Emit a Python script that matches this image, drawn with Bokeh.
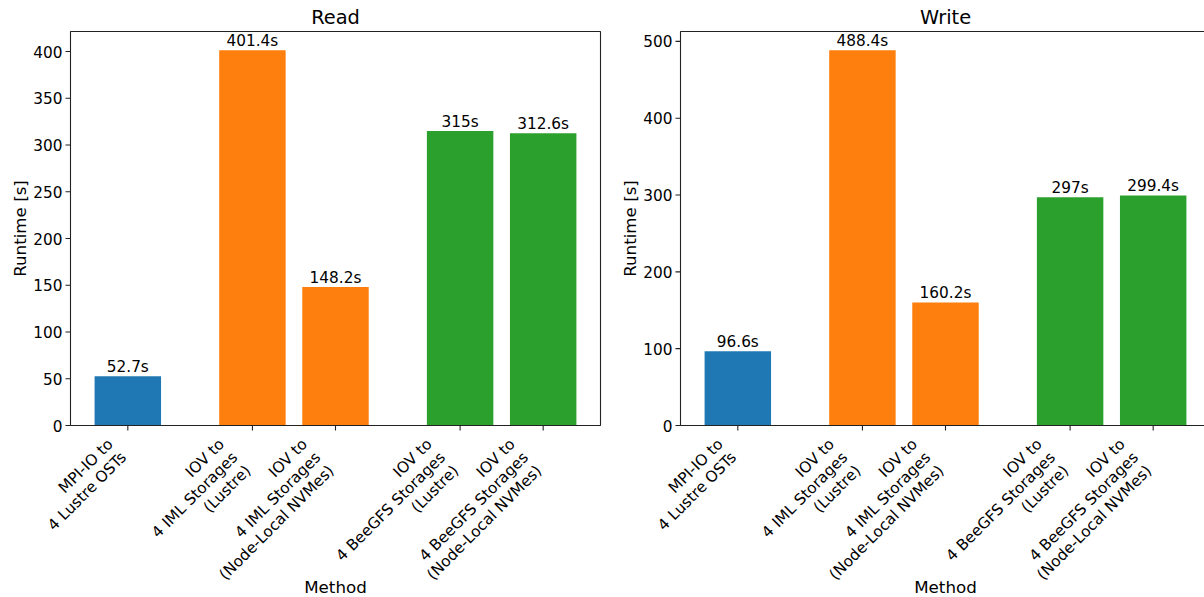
import math
from bokeh.plotting import figure
from bokeh.layouts import row
from bokeh.models import ColumnDataSource, Range1d, BoxAnnotation
from bokeh.core.properties import value
from bokeh.embed import file_html
from bokeh.resources import INLINE

# ---- data ----
methods = [
    "MPI-IO to\n4 Lustre OSTs",
    "IOV to\n4 IML Storages\n(Lustre)",
    "IOV to\n4 IML Storages\n(Node-Local NVMes)",
    "IOV to\n4 BeeGFS Storages\n(Lustre)",
    "IOV to\n4 BeeGFS Storages\n(Node-Local NVMes)",
]
positions = [0.0, 1.5, 2.5, 4.0, 5.0]
read_times = [52.7, 401.4, 148.2, 315, 312.6]
write_times = [96.6, 488.4, 160.2, 297, 299.4]
colors = ["#1f77b4", "#ff7f0e", "#ff7f0e", "#2ca02c", "#2ca02c"]
titles = ["Read", "Write"]
y_intervals = [50, 100]
x_label = "Method"
y_label = "Runtime [s]"

# ---- layout / style ----
FONT = "DejaVu Sans"
HEIGHT = 597
TOP = 31          # px of axes top
AXIS_Y = 425      # px of the x axis (value 0)
LEFT = 70         # px from figure left to axes left
X0, X1 = -0.69, 5.69
XPPU = 530 / (X1 - X0)   # px per x unit
LSTEP = 18.8      # line step px
LH = 17.9         # single line height px
PAD = 9.7
TICK = 5
R2 = math.sqrt(2)
SPINE = "#222222"


def make_panel(title, values, interval, width):
    ymax = max(values) * 1.05
    ppu = (AXIS_Y - TOP) / ymax
    p = figure(width=width, height=HEIGHT, output_backend="svg", toolbar_location=None,
               x_range=Range1d(X0 - LEFT / XPPU, X0 + (width - LEFT) / XPPU),
               y_range=Range1d(-(HEIGHT - AXIS_Y) / ppu, ymax + TOP / ppu),
               x_axis_location=None, y_axis_location=None,
               min_border=0, min_border_left=0, min_border_right=0,
               min_border_top=0, min_border_bottom=0)
    p.grid.visible = False
    p.outline_line_color = None
    p.background_fill_color = "white"
    p.border_fill_color = "white"

    txt = dict(text_font=value(FONT), text_color="black")

    # bars + value labels
    src = ColumnDataSource(dict(x=positions, top=values, color=colors,
                                label=[f"{v:g}s" for v in values]))
    p.vbar(x="x", top="top", bottom=0, width=0.8, fill_color="color", line_color=None, source=src)
    p.text(x="x", y="top", text="label", source=src, text_align="center",
           text_baseline="bottom", text_font_size=value("15.3px"), **txt)

    # spines
    p.add_layout(BoxAnnotation(left=X0, right=X1, bottom=0, top=ymax,
                               fill_alpha=0, fill_color=None,
                               line_color=SPINE, line_alpha=1.0, line_width=1.1,
                               level="overlay"))

    # x ticks
    n = len(positions)
    p.segment(x0=positions, y0=[0] * n, x1=positions, y1=[-TICK / ppu] * n,
              line_color=SPINE, line_width=1.1)

    # rotated multi-line x tick labels (one glyph per line, right aligned)
    xs, texts, xo, yo = [], [], [], []
    for pos, lab in zip(positions, methods):
        lines = lab.split("\n")
        h = (len(lines) - 1) * LSTEP + LH
        for i, line in enumerate(lines):
            xs.append(pos)
            texts.append(line)
            xo.append(-h / R2 + i * LSTEP / R2 + 2)
            yo.append(PAD + i * LSTEP / R2)
    tsrc = ColumnDataSource(dict(x=xs, y=[0] * len(xs), text=texts, xo=xo, yo=yo))
    p.text(x="x", y="y", text="text", source=tsrc, x_offset="xo", y_offset="yo",
           angle=math.pi / 4, text_align="right", text_baseline="top",
           text_font_size=value("15.3px"), **txt)

    # y ticks and labels
    yt = list(range(0, int(ymax) + 1, interval))
    m = len(yt)
    p.segment(x0=[X0] * m, y0=yt, x1=[X0 - TICK / XPPU] * m, y1=yt,
              line_color=SPINE, line_width=1.1)
    p.text(x=[X0] * m, y=yt, text=[str(t) for t in yt], x_offset=-(TICK + 3),
           text_align="right", text_baseline="middle", text_font_size=value("15.3px"), **txt)

    # axis titles
    xc = (X0 + X1) / 2
    p.text(x=[xc], y=[0], text=[x_label], y_offset=HEIGHT - AXIS_Y - 1,
           text_align="center", text_baseline="bottom", text_font_size=value("16.7px"), **txt)
    p.text(x=[X0], y=[ymax / 2], text=[y_label], x_offset=-(LEFT - 19), angle=math.pi / 2,
           text_align="center", text_baseline="middle", text_font_size=value("16.7px"), **txt)

    # plot title
    p.text(x=[xc], y=[ymax], text=[title], y_offset=-2.5,
           text_align="center", text_baseline="bottom", text_font_size=value("19.4px"), **txt)
    return p


p1 = make_panel(titles[0], read_times, y_intervals[0], 610)
p2 = make_panel(titles[1], write_times, y_intervals[1], 594)

layout = row(p1, p2)
open("out.html", "w").write(file_html(layout, INLINE))
